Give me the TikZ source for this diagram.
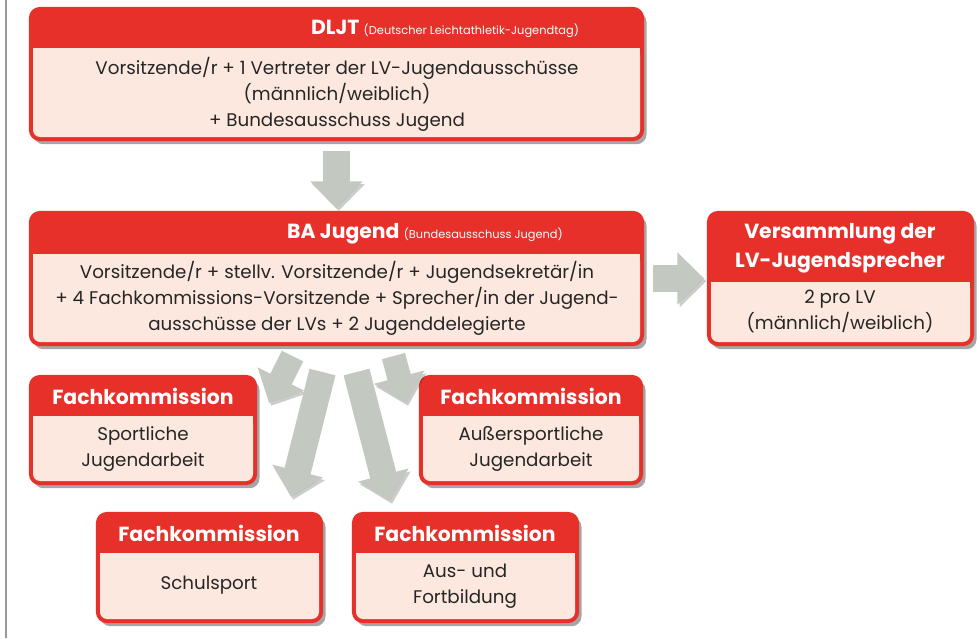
\documentclass[tikz,border=0pt]{standalone}
\usepackage{fontspec}
\setmainfont{Poppins}
\usetikzlibrary{calc,fit,shadows,arrows.meta}

\definecolor{djrot}{HTML}{E8302A}
\definecolor{djhell}{HTML}{FCE8DE}
\definecolor{djgrau}{HTML}{C3C8C0}
\newcommand{\kleinschrift}{\fontsize{8.1}{9.5}\selectfont\mdseries}

\tikzset{
  kasten/.style={draw=djrot, fill=djrot, line width=1.5pt, rounded corners=7pt, inner sep=0pt,
    drop shadow={shadow xshift=2.5pt, shadow yshift=-3pt, fill=black, opacity=.35}},
  koerper/.style={fill=djhell, rounded corners=5pt},
  kopf/.style={text=white, font=\fontsize{14.5}{20.5}\selectfont\bfseries, align=center},
  inhalt/.style={text=black!85, font=\fontsize{13}{18.5}\selectfont, align=center},
  pfeil/.style={draw=djgrau, line width=19pt, -{Triangle[length=19pt, width=36pt]},
    preaction={draw=black, opacity=.2, transform canvas={shift={(1.5pt,-2pt)}}}}
}

\begin{document}
\begin{tikzpicture}[x=0.025cm, y=-0.025cm]
\useasboundingbox (0,0) rectangle (980,638);
\draw[black!40, line width=0.8pt] (6,0) -- (6,638);

% Kaesten
\node[kasten, fit={(30,8) (643,140)}] (dljt) {};
\node[kasten, fit={(30,212) (643,345)}] (ba) {};
\node[kasten, fit={(708,212) (973,345)}] (vers) {};
\node[kasten, fit={(30,376) (256,484)}] (sport) {};
\node[kasten, fit={(420,376) (642,484)}] (ausser) {};
\node[kasten, fit={(97,513) (322,622)}] (schul) {};
\node[kasten, fit={(353,513) (578,622)}] (bildung) {};

\fill[koerper] (33,48) rectangle (640,137);  \fill[djhell] (33,48) rectangle (640,60);
\fill[koerper] (33,254) rectangle (640,342); \fill[djhell] (33,254) rectangle (640,266);
\fill[koerper] (711,282) rectangle (970,342); \fill[djhell] (711,282) rectangle (970,294);
\fill[koerper] (33,416) rectangle (253,481); \fill[djhell] (33,416) rectangle (253,428);
\fill[koerper] (423,416) rectangle (639,481); \fill[djhell] (423,416) rectangle (639,428);
\fill[koerper] (100,553) rectangle (319,619); \fill[djhell] (100,553) rectangle (319,565);
\fill[koerper] (356,553) rectangle (575,619); \fill[djhell] (356,553) rectangle (575,565);

% Texte
\node[kopf] (dljt-kopf) at (445,29) {DLJT {\kleinschrift (Deutscher Leichtathletik-Jugendtag)}};
\node[inhalt] (dljt-text) at (337,94) {Vorsitzende/r + 1 Vertreter der LV-Jugendausschüsse\\(männlich/weiblich)\\+ Bundesausschuss Jugend};

\node[kopf] (ba-kopf) at (425,234) {BA Jugend {\kleinschrift (Bundesausschuss Jugend)}};
\node[inhalt] (ba-text) at (337,298) {Vorsitzende/r + stellv. Vorsitzende/r + Jugendsekretär/in\\+ 4 Fachkommissions-Vorsitzende + Sprecher/in der Jugend-\\ausschüsse der LVs + 2 Jugenddelegierte};

\node[kopf] (vers-kopf) at (840,248) {Versammlung der\\LV-Jugendsprecher};
\node[inhalt] (vers-text) at (840,311) {2 pro LV\\(männlich/weiblich)};

\node[kopf] (sport-kopf) at (143,396) {Fachkommission};
\node[inhalt] (sport-text) at (143,449) {Sportliche\\Jugendarbeit};

\node[kopf] (ausser-kopf) at (531,396) {Fachkommission};
\node[inhalt] (ausser-text) at (531,449) {Außersportliche\\Jugendarbeit};

\node[kopf] (schul-kopf) at (209,533) {Fachkommission};
\node[inhalt] (schul-text) at (209,585) {Schulsport};

\node[kopf] (bildung-kopf) at (465,533) {Fachkommission};
\node[inhalt] (bildung-text) at (465,586) {Aus- und\\Fortbildung};

% Pfeile
\draw[pfeil, shorten <=7pt, shorten >=2pt] (dljt) -- (ba);
\draw[pfeil, shorten <=6.4pt, shorten >=2pt] (ba) -- (vers);
\draw[pfeil, line width=17pt] ($(ba.south)+(-44,10)$) -- ($(sport.north east)+(12,28)$);
\draw[pfeil, line width=17pt] ($(ba.south)+(57,10)$) -- ($(ausser.north west)+(-13,28)$);
\draw[pfeil] ($(ba.south)+(-14,26)$) -- ($(schul.north east)+(-32,-15)$);
\draw[pfeil] ($(ba.south)+(20,26)$) -- ($(bildung.north west)+(38,-11)$);
\end{tikzpicture}
\end{document}
